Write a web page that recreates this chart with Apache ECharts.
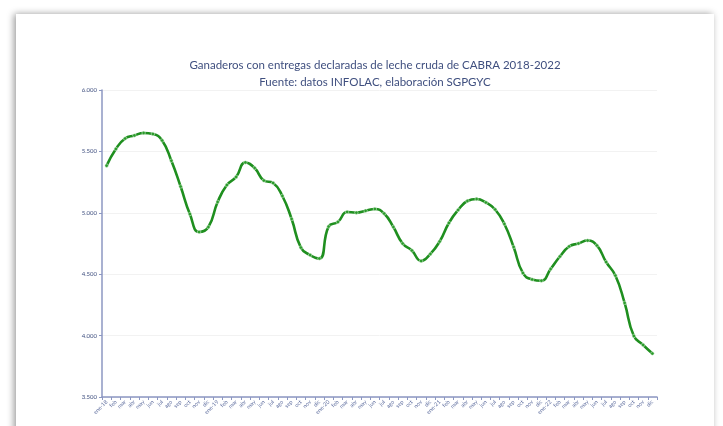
<!DOCTYPE html>
<html>
<head>
<meta charset="utf-8">
<script src="https://cdn.jsdelivr.net/npm/echarts@6/dist/echarts.min.js"></script>
<style>
	html, body { margin: 0; padding: 0; background: #fff; }
	#chart { width: 723px; height: 426px; }
</style>
</head>
<body>
<div id="chart"></div>
<script>
	// meses ene-18 .. dic-22
	const monthNames = ['ene', 'feb', 'mar', 'abr', 'may', 'jun', 'jul', 'ago', 'sep', 'oct', 'nov', 'dic']
	const years = ['18', '19', '20', '21', '22']
	const categories = []
	years.forEach(y => {
		monthNames.forEach((m, i) => {
			categories.push(i === 0 ? m + '-' + y : m)
		})
	})

	// ganaderos por mes
	const ganaderos = [
		5384, 5520, 5605, 5630, 5650, 5642, 5589, 5424, 5214, 4990, 4844, 4884,
		5088, 5226, 5292, 5410, 5365, 5263, 5243, 5137, 4950, 4717, 4656, 4628,
		4888, 4925, 5007, 5001, 5016, 5031, 4994, 4884, 4750, 4693, 4608, 4665,
		4766, 4917, 5023, 5096, 5112, 5084, 5027, 4909, 4722, 4510, 4457, 4447,
		4542, 4644, 4726, 4750, 4774, 4734, 4599, 4489, 4266, 3997, 3924, 3854
	]

	const yTicks = [3500, 4000, 4500, 5000, 5500, 6000]

	const textColor = '#3f4f7f'
	const axisColor = '#8c97c2'

	const chart = echarts.init(document.getElementById('chart'))

	chart.setOption({
		animation: false,
		backgroundColor: '#ffffff',
		graphic: [{
			type: 'rect',
			z: -10,
			shape: { x: 16, y: 14, width: 698, height: 430 },
			style: {
				fill: '#ffffff',
				shadowBlur: 7,
				shadowColor: 'rgba(0,0,0,0.4)',
				shadowOffsetX: -2,
				shadowOffsetY: 0
			}
		}],
		title: {
			text: 'Ganaderos con entregas declaradas de leche cruda de CABRA 2018-2022\nFuente: datos INFOLAC, elaboración SGPGYC',
			left: 370,
			top: 52,
			textAlign: 'center',
			textStyle: {
				fontFamily: 'Lato',
				fontSize: 11.5,
				fontWeight: 'normal',
				color: textColor,
				lineHeight: 17
			}
		},
		grid: {
			left: 102,
			right: 66,
			top: 90,
			bottom: 29
		},
		xAxis: {
			type: 'category',
			data: categories,
			boundaryGap: true,
			axisLine: { lineStyle: { color: axisColor, width: 1.5 } },
			axisTick: { show: true, length: 3, lineStyle: { color: axisColor } },
			axisLabel: {
				interval: 0,
				rotate: 45,
				fontSize: 5.5,
				fontFamily: 'Lato',
				color: '#5f6e9f',
				margin: 4
			}
		},
		yAxis: {
			type: 'value',
			min: yTicks[0],
			max: yTicks[yTicks.length - 1],
			interval: 500,
			axisLine: { show: true, lineStyle: { color: axisColor, width: 1.5 } },
			axisTick: { show: true, length: 3, lineStyle: { color: axisColor } },
			splitLine: { lineStyle: { color: '#f2f2f2', width: 1 } },
			axisLabel: {
				fontSize: 6,
				fontFamily: 'Lato',
				color: textColor,
				margin: 5,
				formatter: v => v.toLocaleString('de-DE')
			}
		},
		series: [{
			name: 'Ganaderos',
			type: 'line',
			data: ganaderos,
			smooth: true,
			symbol: 'circle',
			symbolSize: 3.5,
			lineStyle: { color: '#1f8f1f', width: 2.6 },
			itemStyle: { color: '#2c9c2c', borderColor: '#e8f5e8', borderWidth: 0.5 }
		}]
	})
</script>
</body>
</html>
